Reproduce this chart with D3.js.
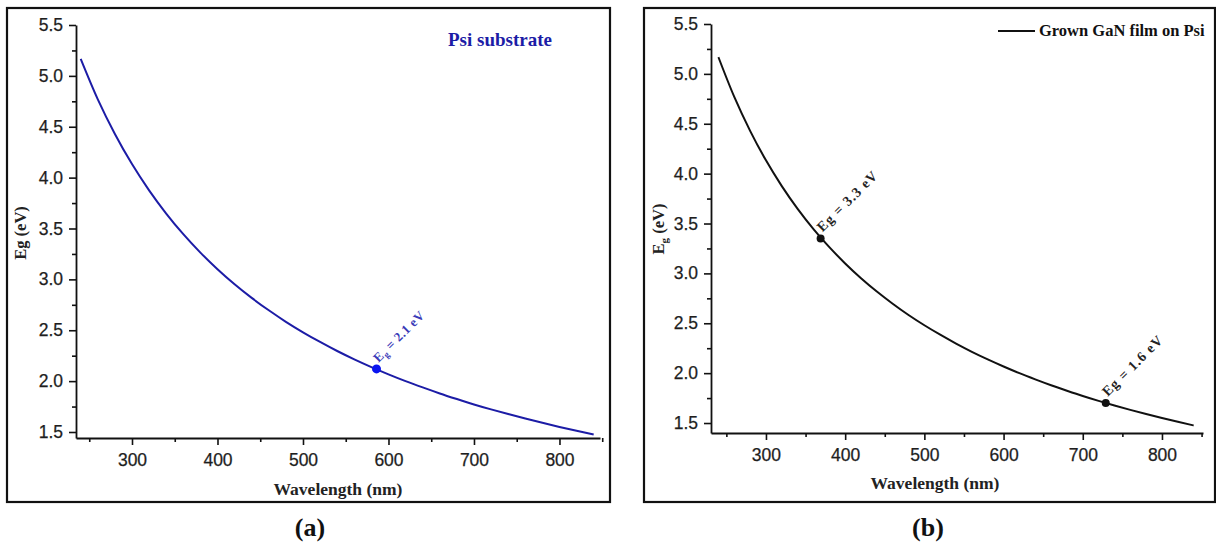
<!DOCTYPE html>
<html>
<head>
<meta charset="utf-8">
<script src="https://cdn.jsdelivr.net/npm/d3@7"></script>
<style>
  html, body { margin: 0; padding: 0; background: #fff; }
  svg { display: block; }
</style>
</head>
<body>
<svg id="chart" width="1216" height="547"></svg>
<script>
// ---- Data ----
const wavelength = [240, 260, 280, 300, 320, 340, 360, 380, 400, 420, 440, 460, 480, 500, 520, 540, 560, 580, 600, 620, 640, 660, 680, 700, 720, 740, 760, 780, 800, 820, 840];
const psiEg = [5.167, 4.769, 4.429, 4.133, 3.875, 3.647, 3.444, 3.263, 3.100, 2.952, 2.818, 2.696, 2.583, 2.480, 2.385, 2.296, 2.214, 2.138, 2.067, 2.000, 1.938, 1.879, 1.824, 1.771, 1.722, 1.676, 1.632, 1.590, 1.550, 1.512, 1.476];
const ganEg = [5.167, 4.769, 4.429, 4.133, 3.875, 3.647, 3.444, 3.263, 3.100, 2.952, 2.818, 2.696, 2.583, 2.480, 2.385, 2.296, 2.214, 2.138, 2.067, 2.000, 1.938, 1.879, 1.824, 1.771, 1.722, 1.676, 1.632, 1.590, 1.550, 1.512, 1.476];
const xMajorTicks = [300, 400, 500, 600, 700, 800];
const xMinorTicks = [250, 350, 450, 550, 650, 750, 850];
const yMajorTicks = [1.5, 2.0, 2.5, 3.0, 3.5, 4.0, 4.5, 5.0, 5.5];
const yMinorTicks = [1.75, 2.25, 2.75, 3.25, 3.75, 4.25, 4.75, 5.25];
const psiMarkers = [{ x: 586, y: 2.12, label: "2.1 eV" }];
const ganMarkers = [{ x: 369, y: 3.35, label: "3.3 eV" }, { x: 729, y: 1.70, label: "1.6 eV" }];

const SERIF = "'Liberation Serif', 'Times New Roman', serif";
const SANS = "'Liberation Sans', Arial, sans-serif";

const svg = d3.select("#chart");

function drawPanel(cfg) {
  const g = svg.append("g");
  // outer frame
  g.append("rect")
    .attr("x", cfg.frame[0]).attr("y", cfg.frame[1])
    .attr("width", cfg.frame[2] - cfg.frame[0]).attr("height", cfg.frame[3] - cfg.frame[1])
    .attr("fill", "none").attr("stroke", "#111").attr("stroke-width", 2.2);

  const x = d3.scaleLinear().domain(cfg.xDomain).range([cfg.plot.left, cfg.plot.right]);
  const y = d3.scaleLinear().domain(cfg.yDomain).range([cfg.plot.bottom, cfg.plot.top]);

  // x axis
  g.append("g").attr("transform", `translate(0,${cfg.plot.bottom})`)
    .call(d3.axisBottom(x).tickValues(xMajorTicks).tickSize(7).tickSizeOuter(0).tickPadding(9).tickFormat(d3.format("d")));
  g.append("g").attr("transform", `translate(0,${cfg.plot.bottom})`)
    .call(d3.axisBottom(x).tickValues(xMinorTicks).tickSize(4).tickSizeOuter(0).tickFormat(""))
    .select(".domain").remove();
  // y axis
  g.append("g").attr("transform", `translate(${cfg.plot.left},0)`)
    .call(d3.axisLeft(y).tickValues(yMajorTicks).tickSize(7).tickSizeOuter(0).tickPadding(6).tickFormat(d3.format(".1f")));
  g.append("g").attr("transform", `translate(${cfg.plot.left},0)`)
    .call(d3.axisLeft(y).tickValues(yMinorTicks).tickSize(4).tickSizeOuter(0).tickFormat(""))
    .select(".domain").remove();

  g.selectAll(".domain").attr("stroke", "#111").attr("stroke-width", 1.8);
  g.selectAll(".tick line").attr("stroke", "#111").attr("stroke-width", 1.6);
  g.selectAll(".tick text").attr("font-family", SANS).attr("font-size", 17.5)
    .attr("fill", "#1e1e1e").attr("stroke", "#1e1e1e").attr("stroke-width", 0.25);

  // curve
  const line = d3.line().x((d, i) => x(wavelength[i])).y(d => y(d)).curve(d3.curveMonotoneX);
  g.append("path").datum(cfg.values)
    .attr("d", line).attr("fill", "none")
    .attr("stroke", cfg.lineColor).attr("stroke-width", 2);

  // markers + labels
  cfg.markers.forEach(m => {
    const cx = x(m.x), cy = y(m.y);
    g.append("circle").attr("cx", cx).attr("cy", cy).attr("r", cfg.markerR).attr("fill", cfg.markerColor);
    const t = g.append("text")
      .attr("transform", `translate(${cx + 2},${cy - 6}) rotate(-45)`)
      .attr("font-family", SERIF).attr("font-weight", "bold")
      .attr("font-size", cfg.annoSize).attr("fill", cfg.annoColor)
      .attr("letter-spacing", cfg.annoSpacing);
    t.append("tspan").text("E");
    if (cfg.subscriptAnno) {
      t.append("tspan").attr("font-size", cfg.annoSize * 0.7).attr("dy", 3).text("g");
      t.append("tspan").attr("dy", -3).text(" = " + m.label);
    } else {
      t.append("tspan").text("g = " + m.label);
    }
  });

  // axis titles
  g.append("text")
    .attr("x", (cfg.plot.left + cfg.plot.right) / 2 + cfg.xTitleDx).attr("y", cfg.xTitleY)
    .attr("text-anchor", "middle").attr("font-family", SERIF).attr("font-weight", "bold")
    .attr("font-size", 17.5).attr("fill", "#222").text("Wavelength (nm)");

  const yt = g.append("text")
    .attr("transform", `translate(${cfg.yTitleX},${cfg.yTitleY}) rotate(-90)`)
    .attr("text-anchor", "middle").attr("font-family", SERIF).attr("font-weight", "bold")
    .attr("font-size", 16.5).attr("fill", "#222");
  yt.append("tspan").text("E");
  if (cfg.subscriptY) {
    yt.append("tspan").attr("font-size", 11).attr("dy", 4).text("g");
    yt.append("tspan").attr("dy", -4).text(" (eV)");
  } else {
    yt.append("tspan").text("g (eV)");
  }

  // panel label
  g.append("text")
    .attr("x", cfg.panelLabelX).attr("y", 536)
    .attr("text-anchor", "middle").attr("font-family", SERIF).attr("font-weight", "bold")
    .attr("font-size", 26).attr("fill", "#111").text(cfg.panelLabel);

  return { g, x, y };
}

// Panel (a)
const a = drawPanel({
  frame: [7, 8, 610, 502],
  plot: { left: 76, right: 600, top: 25, bottom: 438 },
  xDomain: [234.5, 847.4],
  yDomain: [1.441, 5.5],
  values: psiEg,
  lineColor: "#1c1ca6",
  markers: psiMarkers,
  markerR: 4.5,
  markerColor: "#0a14f0",
  annoColor: "#3a3ab8",
  annoSize: 13,
  annoSpacing: 0.4,
  subscriptAnno: true,
  subscriptY: false,
  xTitleDx: 0,
  xTitleY: 495,
  yTitleX: 26,
  yTitleY: 233,
  panelLabel: "(a)",
  panelLabelX: 310
});
a.g.append("text")
  .attr("x", 448).attr("y", 46)
  .attr("font-family", SERIF).attr("font-weight", "bold")
  .attr("font-size", 19).attr("fill", "#1c1ca6").text("Psi substrate");

// Panel (b)
const b = drawPanel({
  frame: [644, 8, 1215, 502],
  plot: { left: 711, right: 1203, top: 24, bottom: 433 },
  xDomain: [230.6, 851.8],
  yDomain: [1.40, 5.5],
  values: ganEg,
  lineColor: "#111",
  markers: ganMarkers,
  markerR: 4,
  markerColor: "#111",
  annoColor: "#222",
  annoSize: 14,
  annoSpacing: 1,
  subscriptAnno: false,
  subscriptY: true,
  xTitleDx: -22,
  xTitleY: 489,
  yTitleX: 664,
  yTitleY: 229,
  panelLabel: "(b)",
  panelLabelX: 928
});
// legend
b.g.append("line").attr("x1", 998).attr("x2", 1035).attr("y1", 31).attr("y2", 31)
  .attr("stroke", "#111").attr("stroke-width", 2);
b.g.append("text").attr("x", 1039).attr("y", 36)
  .attr("font-family", SERIF).attr("font-weight", "bold")
  .attr("font-size", 16.5).attr("fill", "#111").text("Grown GaN film on Psi");
</script>
</body>
</html>
